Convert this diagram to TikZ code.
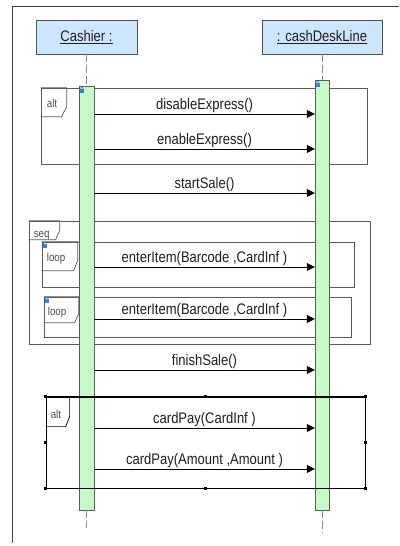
\documentclass[tikz,border=0pt]{standalone}
\usepackage{fontspec}
\newfontfamily\diagfont{Liberation Sans}[FakeStretch=0.85]
\usetikzlibrary{arrows.meta, positioning}
\definecolor{HeadBlue}{HTML}{CDE6FF}
\definecolor{HeadLine}{HTML}{505050}
\definecolor{ActGreen}{HTML}{C8FAC8}
\definecolor{ActLine}{HTML}{5A5A5A}
\definecolor{FrameGray}{HTML}{5A5A5A}
\definecolor{LifeGray}{HTML}{8A8A8A}
\definecolor{LockBlue}{HTML}{3C80D0}
\definecolor{TextDark}{HTML}{1E1E1E}

\begin{document}
\begin{tikzpicture}[x=1pt, y=-1pt,
        font=\diagfont\fontsize{15.3}{17}\selectfont, text=TextDark,
        head/.style={draw=HeadLine, fill=HeadBlue, minimum width=#1, minimum height=34pt, inner sep=0pt},
        act/.style={draw=ActLine, fill=ActGreen, minimum width=15pt, inner sep=0pt},
        frag/.style={draw=FrameGray, line width=0.7pt, inner sep=0pt},
        life/.style={draw=LifeGray, line width=0.8pt, dash pattern=on 8pt off 3pt},
        msg/.style={-{Triangle[length=8pt, width=8pt]}, line width=0.7pt},
        tag/.style={font=\diagfont\fontsize{11.5}{12}\selectfont, text=black!70, inner sep=0pt, anchor=north west},
        lockicon/.pic={
            \fill[LockBlue] (0,2.5) rectangle (4,6);
            \draw[LockBlue, line width=0.6pt] (0.8,2.5) -- (0.8,1.4) arc[start angle=180, end angle=360, radius=1.2] -- (3.2,2.5);
        }]
        \useasboundingbox (0,0) rectangle (399,546);

        % Outer frame
        \draw[draw=black!75, line width=0.8pt] (399,6) -- (12,6) -- (12,543);

        % Lifeline heads
        \node[head=101pt] (cashier) at (86.5,37) {\underline{Cashier :}};
        \node[head=120pt] (desk) at (322,37) {\underline{: cashDeskLine}};

        % Fragments behind the activations
        \node[frag, minimum width=326pt, minimum height=76pt] (altA) at (204,126) {};
        \draw[frag] (altA.north west) -- ++(26,0) -- ++(0,19) -- ++(-5,10) -- ++(-21,0);
        \node[tag] (altAtag) at ([shift={(6,11)}]altA.north west) {alt};

        \node[frag, minimum width=341pt, minimum height=123pt] (seqB) at (199.5,282.5) {};
        \draw[frag] (seqB.north west) -- ++(31,0) -- ++(0,10) -- ++(-4,9) -- ++(-27,0);
        \node[tag] (seqBtag) at ([shift={(5,10)}]seqB.north west) {seq};

        \node[frag, minimum width=312pt, minimum height=45pt] (loopA) at (198,264.5) {};
        \draw[frag] (loopA.north west) -- ++(36,0) -- ++(0,19) -- ++(-4,10) -- ++(-32,0);
        \node[tag] (loopAtag) at ([shift={(5,11)}]loopA.north west) {loop};
        \pic at ([shift={(1,0)}]loopA.north west) {lockicon};

        \node[frag, minimum width=307pt, minimum height=40pt] (loopB) at (197.5,317) {};
        \draw[frag] (loopB.north west) -- ++(35,0) -- ++(0,17) -- ++(-4,9) -- ++(-31,0);
        \node[tag] (loopBtag) at ([shift={(4,10)}]loopB.north west) {loop};
        \pic at ([shift={(1,0)}]loopB.north west) {lockicon};

        % Activations and lifelines
        \coordinate (endC) at (86.5,528);
        \coordinate (endD) at (322,533);
        \node[act, minimum height=424pt] (actC) at (86.5,298) {};
        \node[act, minimum width=14pt, minimum height=430pt] (actD) at (322,295) {};
        \draw[life] (cashier.south) -- (actC.north);
        \draw[life] (desk.south) -- (actD.north);
        \draw[life] (actC.south) -- (endC);
        \draw[life] (actD.south) -- (endD);
        \pic at ([shift={(1,1)}]actC.north west) {lockicon};
        \pic at ([shift={(1,1)}]actD.north west) {lockicon};

        % Selected alt fragment
        \node[draw=black, line width=0.8pt, minimum width=319pt, minimum height=91pt, inner sep=0pt] (altC) at (205.5,442.5) {};
        \draw[line width=1.6pt] (altC.north west) -- (altC.north east);
        \draw[line width=1.6pt] (altC.south west) -- (altC.south east);
        \draw[draw=black, line width=0.7pt] (altC.north west) -- ++(24,0) -- ++(0,20) -- ++(-4,10) -- ++(-20,0);
        \node[tag] (altCtag) at ([shift={(5,13)}]altC.north west) {alt};
        \foreach \a in {north west, north, north east, east, south east, south, south west, west}
            \fill (altC.\a) ++(-1.7,-1.7) rectangle ++(3.4,3.4);

        % Messages
        \coordinate (m1) at (0,114);
        \coordinate (m2) at (0,149);
        \coordinate (m3) at (0,193);
        \coordinate (m4) at (0,267);
        \coordinate (m5) at (0,319);
        \coordinate (m6) at (0,370);
        \coordinate (m7) at (0,428);
        \coordinate (m8) at (0,469);
        \draw[msg] (actC.east |- m1) -- node[above, inner sep=1pt] {disableExpress()} (actD.west |- m1);
        \draw[msg] (actC.east |- m2) -- node[above, inner sep=1pt] {enableExpress()} (actD.west |- m2);
        \draw[msg] (actC.east |- m3) -- node[above, inner sep=1pt] {startSale()} (actD.west |- m3);
        \draw[msg] (actC.east |- m4) -- node[above, inner sep=1pt] {enterItem(Barcode ,CardInf )} (actD.west |- m4);
        \draw[msg] (actC.east |- m5) -- node[above, inner sep=1pt] {enterItem(Barcode ,CardInf )} (actD.west |- m5);
        \draw[msg] (actC.east |- m6) -- node[above, inner sep=1pt] {finishSale()} (actD.west |- m6);
        \draw[msg] (actC.east |- m7) -- node[above, inner sep=1pt] {cardPay(CardInf )} (actD.west |- m7);
        \draw[msg] (actC.east |- m8) -- node[above, inner sep=1pt] {cardPay(Amount ,Amount )} (actD.west |- m8);
    \end{tikzpicture}
\end{document}
